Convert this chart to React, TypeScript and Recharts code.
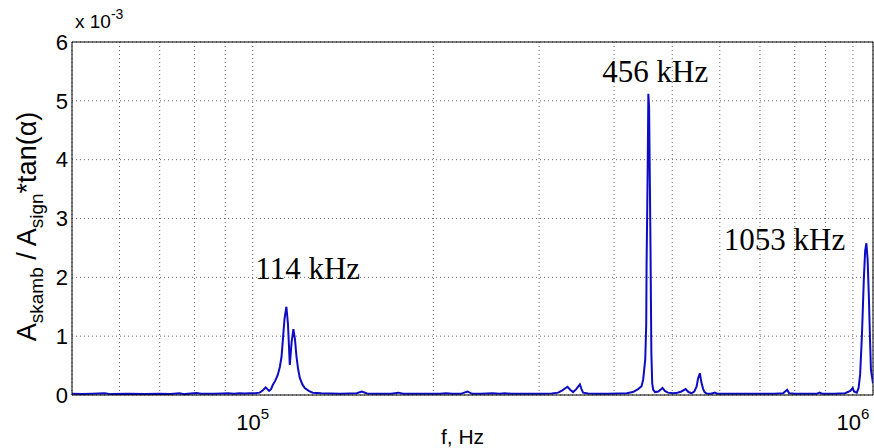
import { CartesianGrid, Line, LineChart, ReferenceDot, ReferenceLine, XAxis, YAxis } from "recharts";

// frequency in kHz, amplitude ratio in units of 1e-3
const lowBandF = [50, 52, 54, 56.7, 58, 62, 66, 70, 73, 75.5, 77, 80.6, 82, 86, 89, 91, 93, 95, 97, 99];
const lowBandA = [0.02, 0.015, 0.02, 0.03, 0.015, 0.02, 0.015, 0.02, 0.015, 0.03, 0.015, 0.035, 0.02, 0.02, 0.025, 0.03, 0.02, 0.03, 0.025, 0.03];

const peak114F = [101, 102.7, 104, 105.1, 106.5, 107.3, 108, 109, 110.1, 111, 111.7, 112.3, 113, 113.8, 114.5, 115.3, 116.1, 116.9, 117.6, 118.3, 119, 119.8, 121, 122.1, 124, 125.9, 130];
const peak114A = [0.03, 0.04, 0.08, 0.13, 0.07, 0.1, 0.17, 0.24, 0.34, 0.48, 0.65, 0.95, 1.3, 1.5, 1.2, 0.51, 0.9, 1.12, 0.95, 0.65, 0.45, 0.29, 0.18, 0.12, 0.07, 0.04, 0.03];

const midBandF = [135, 140, 145, 149, 152, 155, 160, 165, 170, 175, 178, 185, 195, 205, 210, 215, 222, 228, 232, 240, 251, 258, 263, 270, 285, 300, 315, 322.8, 328, 334.5, 338, 341.8, 346, 350.8, 353, 355.2, 362, 375, 390, 405, 420, 430, 438.7, 444.4];
const midBandA = [0.025, 0.02, 0.025, 0.03, 0.06, 0.025, 0.02, 0.02, 0.02, 0.04, 0.02, 0.02, 0.02, 0.02, 0.03, 0.02, 0.02, 0.06, 0.02, 0.02, 0.03, 0.02, 0.03, 0.02, 0.02, 0.02, 0.025, 0.04, 0.08, 0.14, 0.09, 0.05, 0.1, 0.18, 0.1, 0.04, 0.025, 0.02, 0.02, 0.025, 0.03, 0.05, 0.1, 0.15];

const peak456F = [447.2, 450.8, 452.5, 453.1, 455, 456.2, 457.5, 459, 460, 461.5, 463, 464.7, 468, 474, 481.8, 486, 491.7, 501.8, 510, 518, 526.3, 532, 538.5, 544, 548.9, 552, 555.9, 559, 563, 566, 570.4];
const peak456A = [0.26, 0.6, 1.2, 2.2, 3.8, 5.12, 4.9, 3.49, 2.5, 0.71, 0.2, 0.09, 0.05, 0.06, 0.12, 0.07, 0.04, 0.03, 0.04, 0.06, 0.1, 0.05, 0.03, 0.06, 0.14, 0.28, 0.37, 0.22, 0.1, 0.05, 0.025];

const highBandF = [580, 588.8, 595, 620, 660, 700, 740, 765, 777, 783, 800, 840, 870, 880, 890, 930, 970, 990, 999, 1004, 1015, 1022, 1028, 1035, 1043, 1048, 1053, 1058, 1063, 1068, 1071.5, 1080];
const highBandA = [0.02, 0.04, 0.02, 0.02, 0.02, 0.02, 0.02, 0.03, 0.09, 0.03, 0.02, 0.02, 0.02, 0.04, 0.02, 0.02, 0.03, 0.07, 0.12, 0.06, 0.04, 0.12, 0.35, 1.0, 2.0, 2.45, 2.58, 2.3, 1.67, 0.9, 0.43, 0.2];

const xTicks = [60e3, 70e3, 80e3, 90e3, 1e5, 2e5, 3e5, 4e5, 5e5, 6e5, 7e5, 8e5, 9e5, 1e6];
const xLabels: Record<number, string> = { 100000: "5", 1000000: "6" };
const yTicks = [0, 1, 2, 3, 4, 5, 6];

const peakLabels = [
  { f: 123.5, a: 1.97, text: "114 kHz" },
  { f: 468.5, a: 5.32, text: "456 kHz" },
  { f: 769, a: 2.47, text: "1053 kHz" }
];

const X_MIN = 50e3;
const X_MAX = 1080e3;

const toRows = (f: number[], a: number[]) => f.map((v, i) => ({ f: v * 1000, a: a[i] }));

const data = [
  ...toRows(lowBandF, lowBandA),
  ...toRows(peak114F, peak114A),
  ...toRows(midBandF, midBandA),
  ...toRows(peak456F, peak456A),
  ...toRows(highBandF, highBandA)
];

const sans = "'Liberation Sans', Arial, sans-serif";
const serif = "'Liberation Serif', 'Times New Roman', serif";

function XTick(props: any) {
  const { x, y, payload } = props;
  const exp = xLabels[payload.value];
  if (!exp) return null;
  return (
    <text x={x} y={y + 35} textAnchor="middle" fontFamily={sans} fontSize={22} fill="#000">
      10
      <tspan dy={-11} fontSize={15}>{exp}</tspan>
    </text>
  );
}

export default function App() {
  return (
    <div style={{ position: "absolute", left: 0, top: 0, background: "#fff" }}>
      <LineChart width={874} height={448} data={data} margin={{ top: 42, right: 1, bottom: 0, left: 0 }}>
        <CartesianGrid stroke="#666" strokeDasharray="1 3" />
        <XAxis
          dataKey="f"
          type="number"
          scale="log"
          domain={[X_MIN, X_MAX]}
          allowDataOverflow
          ticks={xTicks}
          interval={0}
          height={53}
          tickSize={0}
          tickMargin={0}
          tick={<XTick />}
          axisLine={{ stroke: "#000" }}
          label={{
            content: ({ viewBox }: any) => (
              <text x={viewBox.x + viewBox.width / 2 - 10} y={viewBox.y + 49} textAnchor="middle" fontFamily={sans} fontSize={21} fill="#000">
                f, Hz
              </text>
            )
          }}
        />
        <YAxis
          type="number"
          domain={[0, 6]}
          ticks={yTicks}
          interval={0}
          width={72}
          tickSize={0}
          tickMargin={4}
          tick={{ fontFamily: sans, fontSize: 22, fill: "#000" }}
          axisLine={{ stroke: "#000" }}
          label={{
            content: ({ viewBox }: any) => {
              const cx = 36;
              const cy = viewBox.y + viewBox.height / 2 + 8;
              return (
                <text x={cx} y={cy} transform={`rotate(-90, ${cx}, ${cy})`} textAnchor="middle" fontFamily={sans} fontSize={27} fill="#000">
                  A
                  <tspan dy={7} fontSize={19}>skamb</tspan>
                  <tspan dy={-7}> / A</tspan>
                  <tspan dy={7} fontSize={19}>sign</tspan>
                  <tspan dy={-7}>*tan(α)</tspan>
                </text>
              );
            }
          }}
        />
        <ReferenceLine y={6} stroke="#000" />
        <ReferenceLine x={X_MAX} stroke="#000" />
        <ReferenceDot
          x={X_MIN}
          y={6}
          r={0}
          ifOverflow="visible"
          shape={(p: any) => (
            <text x={p.cx + 3} y={p.cy - 14} fontFamily={sans} fontSize={19} fill="#000">
              x 10
              <tspan dy={-9} fontSize={14}>-3</tspan>
            </text>
          )}
        />
        {peakLabels.map((l) => (
          <ReferenceDot
            key={l.text}
            x={l.f * 1000}
            y={l.a}
            r={0}
            ifOverflow="visible"
            shape={(p: any) => (
              <text x={p.cx} y={p.cy} textAnchor="middle" fontFamily={serif} fontSize={31} fill="#000">
                {l.text}
              </text>
            )}
          />
        ))}
        <Line dataKey="a" type="linear" stroke="#0c0cc4" strokeWidth={2} dot={false} isAnimationActive={false} />
      </LineChart>
    </div>
  );
}
